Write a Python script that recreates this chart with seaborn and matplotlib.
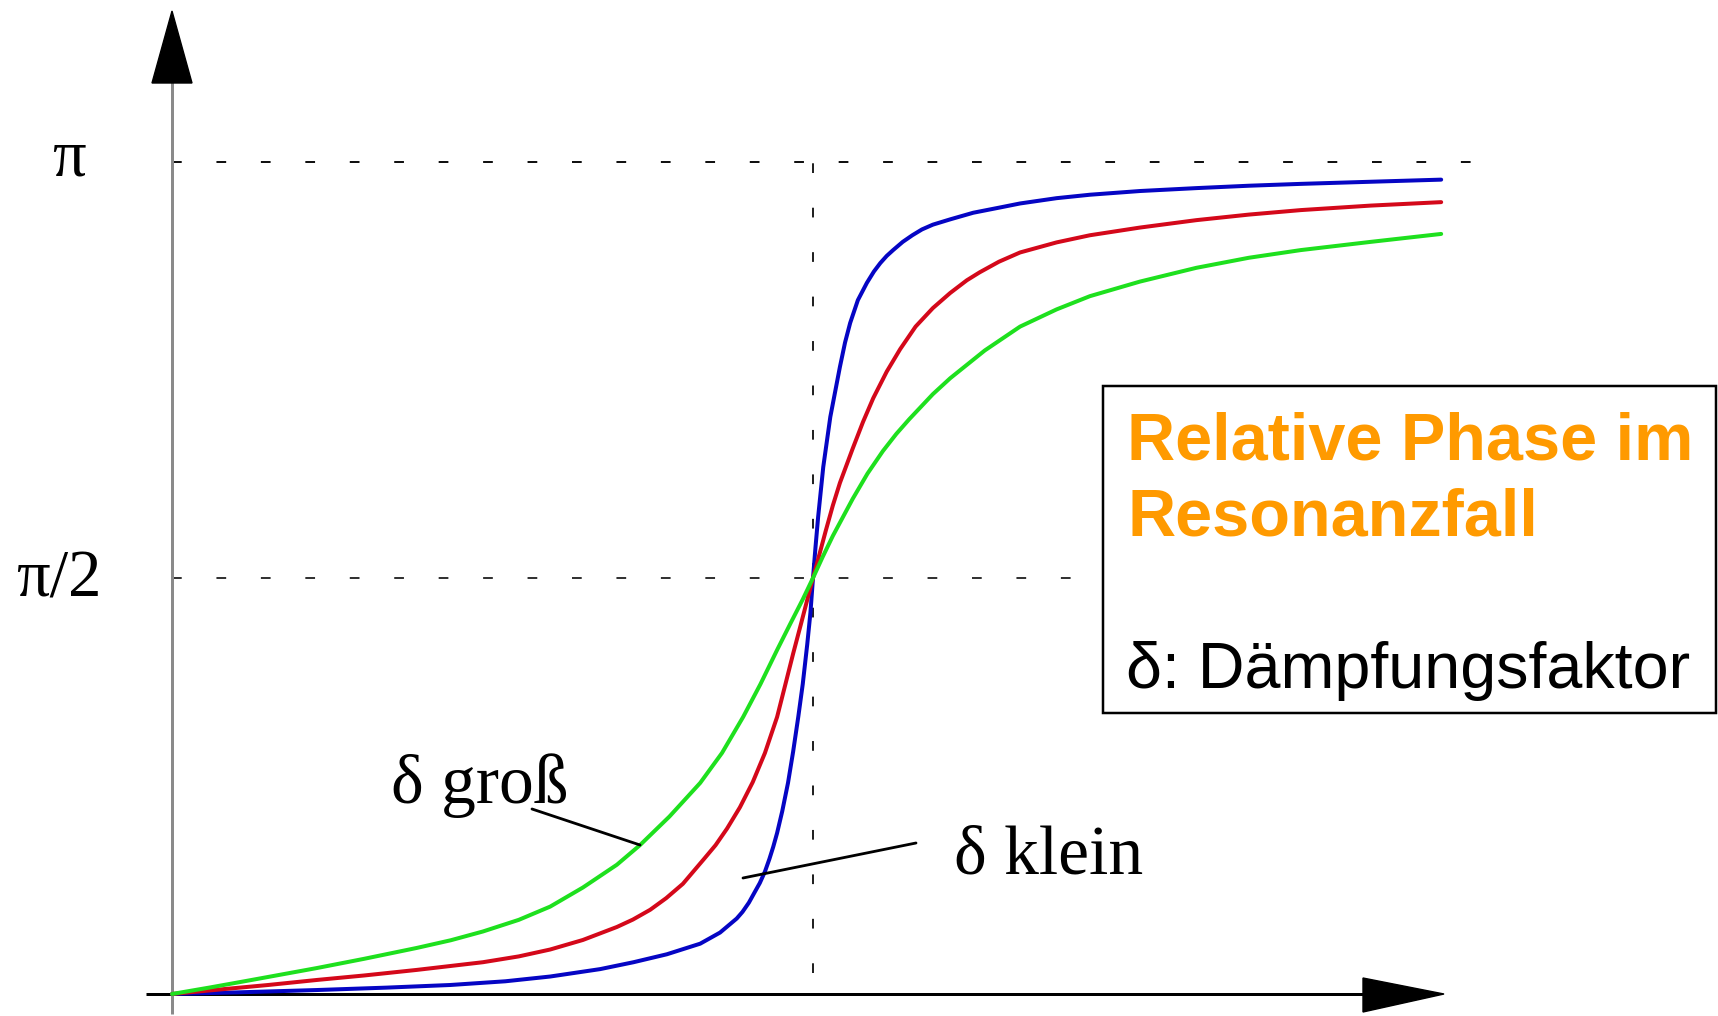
import numpy as np
import pandas as pd
import matplotlib
matplotlib.use("Agg")
import matplotlib.pyplot as plt
import seaborn as sns
from matplotlib.patches import Polygon, Rectangle
from matplotlib.lines import Line2D

# ---------------- data ----------------
# x: omega / omega_0 ; y: phase in rad
blue_x = [0, 0.10, 0.226, 0.334, 0.434, 0.52, 0.590, 0.668, 0.72, 0.772, 0.824, 0.855,
          0.881, 0.89, 0.90, 0.908, 0.917, 0.925, 0.932, 0.938, 0.944, 0.952, 0.961, 0.969,
          0.977, 0.984, 0.991, 0.996, 1.0, 1.004, 1.008, 1.016, 1.027, 1.042, 1.05, 1.058,
          1.07, 1.084, 1.095, 1.105, 1.115, 1.125, 1.14, 1.155, 1.17, 1.187, 1.214, 1.25,
          1.292, 1.323, 1.38, 1.432, 1.51, 1.598, 1.68, 1.761, 1.87, 1.98]
blue_y = [0, 0.006, 0.015, 0.024, 0.034, 0.048, 0.066, 0.094, 0.120, 0.150, 0.190, 0.232,
          0.285, 0.310, 0.345, 0.380, 0.419, 0.462, 0.51, 0.556, 0.608, 0.69, 0.797, 0.915,
          1.046, 1.17, 1.32, 1.44, 1.571, 1.69, 1.801, 1.990, 2.179, 2.368, 2.46, 2.534,
          2.62, 2.685, 2.728, 2.76, 2.787, 2.809, 2.84, 2.865, 2.887, 2.905, 2.925, 2.950,
          2.970, 2.985, 3.005, 3.018, 3.032, 3.043, 3.052, 3.059, 3.067, 3.075]

red_x = [0, 0.07, 0.15, 0.226, 0.30, 0.382, 0.485, 0.541, 0.590, 0.641, 0.694, 0.719,
         0.746, 0.771, 0.797, 0.83, 0.848, 0.866, 0.886, 0.906, 0.925, 0.944, 0.957, 0.969,
         0.981, 0.991, 1.0, 1.01, 1.02, 1.031, 1.042, 1.062, 1.078, 1.094, 1.115, 1.136,
         1.16, 1.187, 1.214, 1.24, 1.26, 1.29, 1.323, 1.38, 1.432, 1.51, 1.598, 1.68,
         1.761, 1.87, 1.98]
red_y = [0, 0.016, 0.034, 0.053, 0.070, 0.091, 0.120, 0.142, 0.168, 0.204, 0.253, 0.281,
         0.318, 0.362, 0.416, 0.51, 0.562, 0.625, 0.705, 0.80, 0.91, 1.046, 1.17, 1.285,
         1.395, 1.488, 1.571, 1.66, 1.75, 1.845, 1.93, 2.06, 2.16, 2.25, 2.35, 2.435,
         2.52, 2.59, 2.647, 2.695, 2.725, 2.765, 2.80, 2.838, 2.865, 2.894, 2.922, 2.943,
         2.960, 2.977, 2.99]

green_x = [0, 0.06, 0.122, 0.226, 0.30, 0.382, 0.435, 0.485, 0.541, 0.590, 0.641, 0.694,
           0.730, 0.776, 0.824, 0.858, 0.891, 0.918, 0.944, 0.965, 0.984, 1.0, 1.015, 1.031,
           1.062, 1.085, 1.109, 1.13, 1.15, 1.187, 1.214, 1.268, 1.323, 1.38, 1.432, 1.51,
           1.598, 1.68, 1.761, 1.87, 1.98]
green_y = [0, 0.025, 0.052, 0.098, 0.133, 0.174, 0.203, 0.236, 0.280, 0.330, 0.402, 0.488,
           0.562, 0.67, 0.797, 0.91, 1.046, 1.17, 1.299, 1.40, 1.49, 1.571, 1.65, 1.73,
           1.87, 1.965, 2.05, 2.115, 2.17, 2.265, 2.325, 2.43, 2.52, 2.585, 2.635, 2.69,
           2.742, 2.78, 2.809, 2.84, 2.87]

series_names = ["klein", "mittel", "groß"]
series_colors = ["#0505C4", "#D4081A", "#1EE01E"]

ytick_values = [np.pi / 2, np.pi]
ytick_labels = ["π/2", "π"]
resonance_x = 1.0

title_lines = ["Relative Phase im", "Resonanzfall"]
legend_note = "δ: Dämpfungsfaktor"
label_large = "δ groß"
label_small = "δ klein"

# ---------------- figure ----------------
W, H, DPI = 1718, 1016, 100
sns.set_theme(style="white")
plt.rcParams["font.family"] = ["Liberation Serif", "DejaVu Serif"]
plt.rcParams["lines.scale_dashes"] = False

fig = plt.figure(figsize=(W / DPI, H / DPI), dpi=DPI)
fig.patch.set_facecolor("white")
ax = fig.add_axes([0, 0, 1, 1])
ax.set_facecolor("white")

X0, XS = 172, 641.0
Y0, YS = 994, 832.0 / np.pi


def dx(px):
    return (px - X0) / XS


def dy(py):
    return (Y0 - py) / YS


def fx(px):
    return px / W


def fy(py):
    return 1 - py / H


df = pd.concat([
    pd.DataFrame({"omega": blue_x, "phase": blue_y, "delta": series_names[0]}),
    pd.DataFrame({"omega": red_x, "phase": red_y, "delta": series_names[1]}),
    pd.DataFrame({"omega": green_x, "phase": green_y, "delta": series_names[2]}),
])

px_pt = 72.0 / DPI

# dashed guide lines
dash = (0, (7, 25))
ax.plot([0, dx(1500)], [ytick_values[1]] * 2, color="#111111", lw=2 * px_pt,
        linestyle=dash, zorder=1)
ax.plot([0, dx(1100)], [ytick_values[0]] * 2, color="#333333", lw=2 * px_pt,
        linestyle=dash, zorder=1)
ax.plot([resonance_x] * 2, [dy(973), dy(142)], color="#222222", lw=2 * px_pt,
        linestyle=dash, zorder=1)

sns.lineplot(data=df, x="omega", y="phase", hue="delta", hue_order=series_names,
             palette=dict(zip(series_names, series_colors)), sort=False,
             estimator=None, linewidth=4 * px_pt, legend=False, ax=ax, zorder=3)
for ln in ax.lines[3:]:
    ln.set_solid_joinstyle("round")
    ln.set_solid_capstyle("round")
ax.set_xlabel("")
ax.set_ylabel("")
ax.set_xlim(dx(0), dx(W))
ax.set_ylim(dy(H), dy(0))
ax.axis("off")

# axes with arrowheads
ax.plot([0, 0], [dy(1014), dy(80)], color="#8a8a8a", lw=3 * px_pt, zorder=2,
        solid_capstyle="butt")
ax.add_patch(Polygon([[0, dy(11)], [dx(152), dy(83)], [dx(192), dy(83)]],
                     closed=True, color="black", zorder=4))
ax.plot([dx(146), dx(1366)], [0, 0], color="black", lw=3 * px_pt, zorder=2,
        solid_capstyle="butt")
ax.add_patch(Polygon([[dx(1444), 0], [dx(1363), dy(978)], [dx(1363), dy(1012)]],
                     closed=True, color="black", zorder=4))

# y tick labels
fig.text(fx(52), fy(175), ytick_labels[1], fontsize=48, ha="left", va="baseline",
         color="black")
fig.text(fx(16), fy(597), ytick_labels[0], fontsize=48, ha="left", va="baseline",
         color="black")

# curve labels with pointer lines
fig.text(fx(391), fy(803), label_large, fontsize=50, ha="left", va="baseline",
         color="black")
fig.add_artist(Line2D([fx(532), fx(640)], [fy(809), fy(845)], color="black",
                      lw=2.8 * px_pt))
fig.text(fx(954), fy(873), label_small, fontsize=50, ha="left", va="baseline",
         color="black")
fig.add_artist(Line2D([fx(916), fx(743)], [fy(843), fy(878)], color="black",
                      lw=2.8 * px_pt))

# info box
fig.add_artist(Rectangle((fx(1103), fy(713)), fx(1716) - fx(1103), fy(386) - fy(713),
                         transform=fig.transFigure, fill=False, edgecolor="black",
                         lw=2.5 * px_pt))
fig.text(fx(1127), fy(459), title_lines[0], fontsize=48, fontweight="bold",
         family=["Liberation Sans", "DejaVu Sans"], color="#FF9A00",
         ha="left", va="baseline")
fig.text(fx(1127), fy(535), title_lines[1], fontsize=48, fontweight="bold",
         family=["Liberation Sans", "DejaVu Sans"], color="#FF9A00",
         ha="left", va="baseline")
fig.text(fx(1126), fy(688), legend_note, fontsize=46.5,
         family=["Liberation Sans", "DejaVu Sans"],
         color="black", ha="left", va="baseline")

fig.savefig("out.png", dpi=DPI, facecolor="white")
